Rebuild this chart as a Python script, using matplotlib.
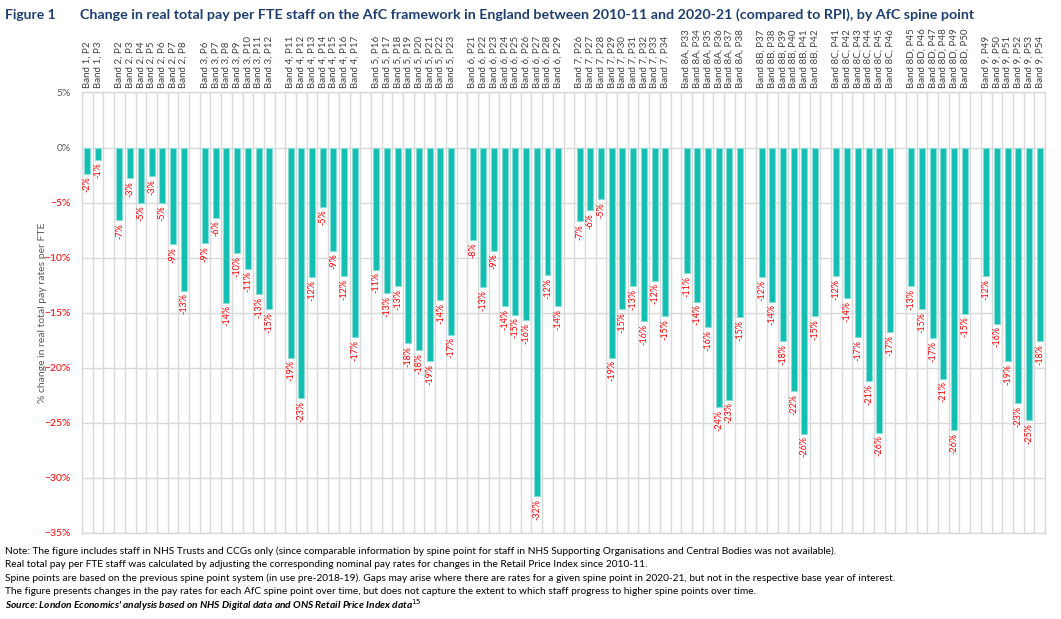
import matplotlib
matplotlib.use("Agg")
import matplotlib.pyplot as plt
from matplotlib.ticker import FixedLocator, PercentFormatter

plt.rcParams['font.family'] = ['Lato', 'DejaVu Sans']

# ---- data ----
bands = ["1", "2", "3", "4", "5", "6", "7", "8A", "8B", "8C", "8D", "9"]
band_points = [
    [2, 3],
    [2, 3, 4, 5, 6, 7, 8],
    [6, 7, 8, 9, 10, 11, 12],
    [11, 12, 13, 14, 15, 16, 17],
    [16, 17, 18, 19, 20, 21, 22, 23],
    [21, 22, 23, 24, 25, 26, 27, 28, 29],
    [26, 27, 28, 29, 30, 31, 32, 33, 34],
    [33, 34, 35, 36, 37, 38],
    [37, 38, 39, 40, 41, 42],
    [41, 42, 43, 44, 45, 46],
    [45, 46, 47, 48, 49, 50],
    [49, 50, 51, 52, 53, 54],
]
band_values = [
    [-2.4, -1.1],
    [-6.6, -2.8, -5.0, -2.6, -5.0, -8.8, -13.0],
    [-8.7, -6.4, -14.1, -9.6, -11.0, -13.3, -14.7],
    [-19.1, -22.8, -11.8, -5.4, -9.4, -11.7, -17.2],
    [-11.1, -13.2, -12.6, -17.8, -18.4, -19.4, -13.9, -17.0],
    [-8.4, -12.7, -9.4, -14.4, -15.2, -15.7, -31.7, -11.6, -14.4],
    [-6.7, -5.7, -4.7, -19.1, -14.7, -12.6, -15.8, -12.1, -15.3],
    [-11.4, -14.0, -16.3, -23.6, -22.9, -15.4],
    [-11.8, -14.0, -17.6, -22.1, -26.0, -15.3],
    [-11.7, -13.7, -17.2, -21.2, -25.9, -16.8],
    [-12.6, -14.7, -17.3, -21.0, -25.7, -15.1],
    [-11.7, -16.0, -19.4, -23.2, -24.8, -17.6],
]
y_ticks = [5, 0, -5, -10, -15, -20, -25, -30, -35]

title_fig = "Figure 1"
title_txt = ("Change in real total pay per FTE staff on the AfC framework in England between "
             "2010-11 and 2020-21 (compared to RPI), by AfC spine point")
y_label = "% change in real total pay rates per FTE"
notes = [
    "Note: The figure includes staff in NHS Trusts and CCGs only (since comparable information by spine point for staff in NHS Supporting Organisations and Central Bodies was not available).",
    "Real total pay per FTE staff was calculated by adjusting the corresponding nominal pay rates for changes in the Retail Price Index since 2010-11.",
    "Spine points are based on the previous spine point system (in use pre-2018-19). Gaps may arise where there are rates for a given spine point in 2020-21, but not in the respective base year of interest.",
    "The figure presents changes in the pay rates for each AfC spine point over time, but does not capture the extent to which staff progress to higher spine points over time.",
]
source = r"Source: London Economics' analysis based on NHS Digital data and ONS Retail Price Index data$^{15}$"

# ---- build positions ----
xs, vals, labels = [], [], []
slot = 0
for bi, (b, pts, vs) in enumerate(zip(bands, band_points, band_values)):
    if bi > 0:
        slot += 1  # empty gap slot
    for p, v in zip(pts, vs):
        xs.append(slot)
        vals.append(v)
        labels.append(f"Band {b}, P{p}")
        slot += 1
n_slots = slot

# ---- figure ----
fig = plt.figure(figsize=(10.61, 6.19), dpi=100)
ax = fig.add_axes([0.0773, 0.1394, 0.9077, 0.7112])

teal = "#12BEB2"
ax.bar(xs, vals, width=0.56, color=teal, edgecolor="#86DDD6", linewidth=0.8, zorder=3)

for x, v in zip(xs, vals):
    ax.annotate(f"{v:.0f}%", (x, v), xytext=(0, -2), textcoords="offset points",
                rotation=90, ha="center", va="top", color="#FF0000", fontsize=6.5)

ax.set_xlim(-0.5, n_slots - 0.5)
ax.set_ylim(-35, 5)

ax.xaxis.tick_top()
ax.set_xticks(xs)
ax.set_xticklabels(labels, rotation=90, fontsize=7, color="#404040")
ax.tick_params(axis="x", length=0, pad=3)
ax.xaxis.set_minor_locator(FixedLocator([i - 0.5 for i in range(n_slots + 1)]))
ax.tick_params(axis="x", which="minor", length=0)
ax.grid(axis="x", which="minor", color="#D9D9D9", linewidth=1.0, zorder=0)

ax.set_yticks(y_ticks)
ax.yaxis.set_major_formatter(PercentFormatter(decimals=0))
ax.tick_params(axis="y", length=0, labelsize=7.5, pad=8)
for t, v in zip(ax.get_yticklabels(), y_ticks):
    t.set_color("#FF0000" if v < 0 else "#595959")
ax.grid(axis="y", which="major", color="#D9D9D9", linewidth=1.0, zorder=0)
ax.set_ylabel(y_label, fontsize=7.5, color="#595959", va="center")
ax.yaxis.set_label_coords(-40 / 963, 0.5)

for s in ax.spines.values():
    s.set_color("#D9D9D9")
    s.set_linewidth(1.0)

navy = "#1F3F73"
fig.text(5 / 1061, 1 - 15 / 619, title_fig, fontsize=10, fontweight="bold", color=navy, va="center")
fig.text(80 / 1061, 1 - 15 / 619, title_txt, fontsize=10.25, fontweight="bold", color=navy, va="center")

y0 = 551
for i, line in enumerate(notes):
    fig.text(5 / 1061, 1 - (y0 + i * 13.5) / 619, line, fontsize=7.25, color="#000000", va="center")
fig.text(5 / 1061, 1 - (y0 + 4 * 13.5) / 619, source, fontsize=7.25, fontweight="bold",
         style="italic", color="#000000", va="center")

fig.savefig("out.png", dpi=100)
